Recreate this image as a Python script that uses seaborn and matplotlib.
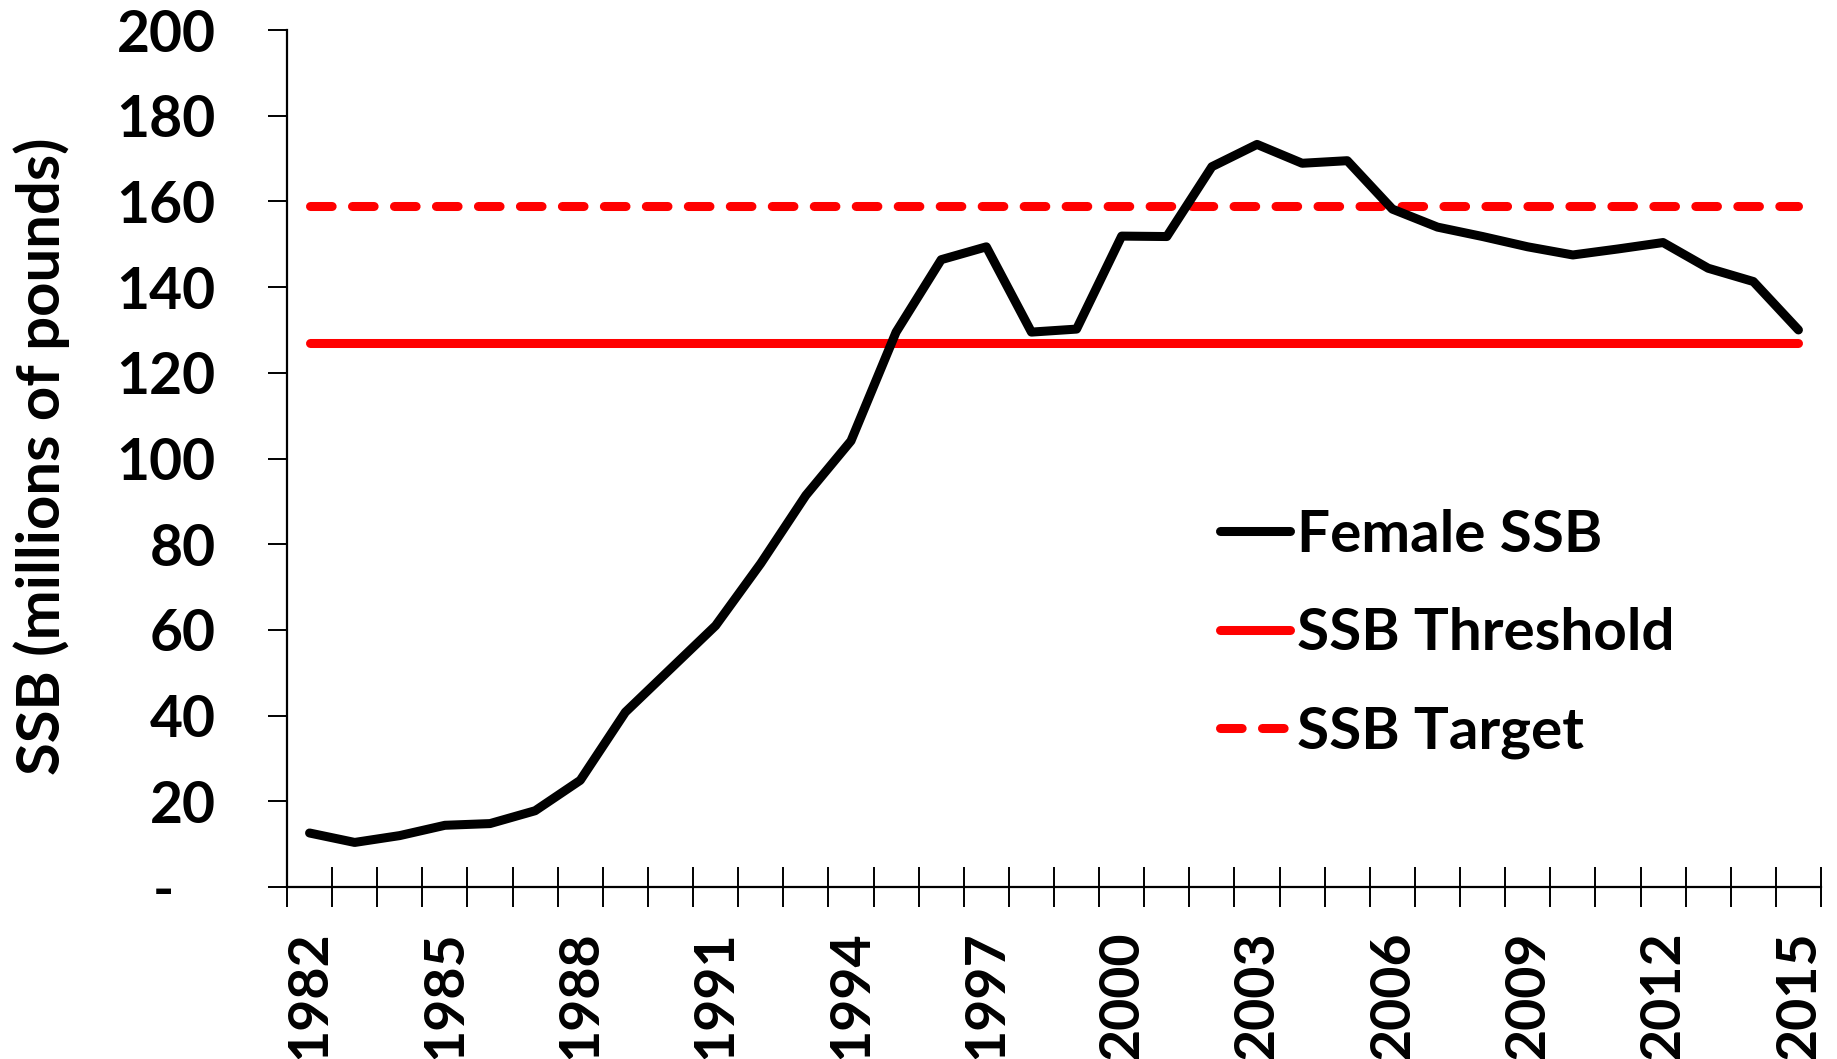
import numpy as np
import pandas as pd
import matplotlib
matplotlib.use("Agg")
import matplotlib.pyplot as plt
import seaborn as sns

years = list(range(1982, 2016))
female_ssb = [12.6, 10.4, 12.0, 14.4, 14.8, 17.8, 24.9, 40.8, 50.9, 61.0,
              75.5, 91.4, 104.1, 129.5, 146.4, 149.4, 129.5, 130.2, 151.9, 151.8,
              168.1, 173.3, 168.9, 169.5, 158.2, 154.0, 151.8, 149.4, 147.5, 148.9,
              150.4, 144.4, 141.3, 130.0]
ssb_threshold = 127.0
ssb_target = 159.0
y_ticks = [0, 20, 40, 60, 80, 100, 120, 140, 160, 180, 200]
y_tick_labels = ["-   ", "20", "40", "60", "80", "100", "120", "140", "160", "180", "200"]
x_label_years = list(range(1982, 2016, 3))
series_names = ["Female SSB", "SSB Threshold", "SSB Target"]
y_label = "SSB (millions of pounds)"

df = pd.DataFrame({
    "Year": years,
    "Female SSB": female_ssb,
    "SSB Threshold": [ssb_threshold] * len(years),
    "SSB Target": [ssb_target] * len(years),
})

sns.set_style("white")
FONT = ["Lato", "DejaVu Sans"]
plt.rcParams["font.family"] = FONT
plt.rcParams["font.weight"] = "bold"

W, H = 1837, 1059
fig = plt.figure(figsize=(W / 100, H / 100), dpi=100)
ax = fig.add_axes([287 / W, 1 - 887 / H, (1821 - 287) / W, (887 - 30) / H])

lw = 6.5
sns.lineplot(data=df, x="Year", y="Female SSB", ax=ax, color="black", lw=lw,
             label=series_names[0], solid_capstyle="round", solid_joinstyle="round")
sns.lineplot(data=df, x="Year", y="SSB Threshold", ax=ax, color="#ff0000", lw=lw,
             label=series_names[1], solid_capstyle="round")
sns.lineplot(data=df, x="Year", y="SSB Target", ax=ax, color="#ff0000", lw=lw,
             label=series_names[2])
tgt = ax.get_lines()[2]
tgt.set_dashes((2.4, 2.25))
tgt.set_dash_capstyle("round")

ax.get_lines()[0].set_zorder(5)

ax.set_xlim(years[0] - 0.5, years[-1] + 0.5)
ax.set_ylim(0, 200)

for s in ["top", "right"]:
    ax.spines[s].set_visible(False)
for s in ["left", "bottom"]:
    ax.spines[s].set_color("black")
    ax.spines[s].set_linewidth(1.6)

ax.set_yticks(y_ticks)
ax.set_yticklabels(y_tick_labels)
ax.tick_params(axis="y", which="major", direction="out", length=13.5, width=1.4,
               color="black", pad=38, labelsize=41, left=True)

ax.set_xticks(x_label_years)
ax.set_xticklabels([str(y) for y in x_label_years], rotation=90)
ax.set_xticks(np.arange(years[0] - 0.5, years[-1] + 1.0, 1.0), minor=True)
ax.tick_params(axis="x", which="major", length=0, pad=31, labelsize=40, bottom=True)
ax.tick_params(axis="x", which="minor", direction="inout", length=29, width=1.4,
               color="black", bottom=True)
for t in ax.get_xticklabels() + ax.get_yticklabels():
    t.set_fontweight("bold")
    t.set_color("black")

ax.set_xlabel("")
ax.set_ylabel(y_label, fontsize=43, fontweight="bold", color="black", labelpad=0)
ax.yaxis.set_label_coords((70 - 287) / (1821 - 287), (887 - 456) / (887 - 30))

leg = ax.legend(loc="center left", bbox_to_anchor=(1220 / W, 1 - 634 / H),
                bbox_transform=fig.transFigure, frameon=False, fontsize=42,
                handlelength=1.2, handletextpad=0.12, labelspacing=0.78,
                borderpad=0, borderaxespad=0)
for t in leg.get_texts():
    t.set_fontweight("bold")
    t.set_color("black")
for h in leg.get_lines():
    h.set_linewidth(lw)
    h.set_solid_capstyle("round")
    h.set_dash_capstyle("round")

fig.savefig("out.png", dpi=100)
